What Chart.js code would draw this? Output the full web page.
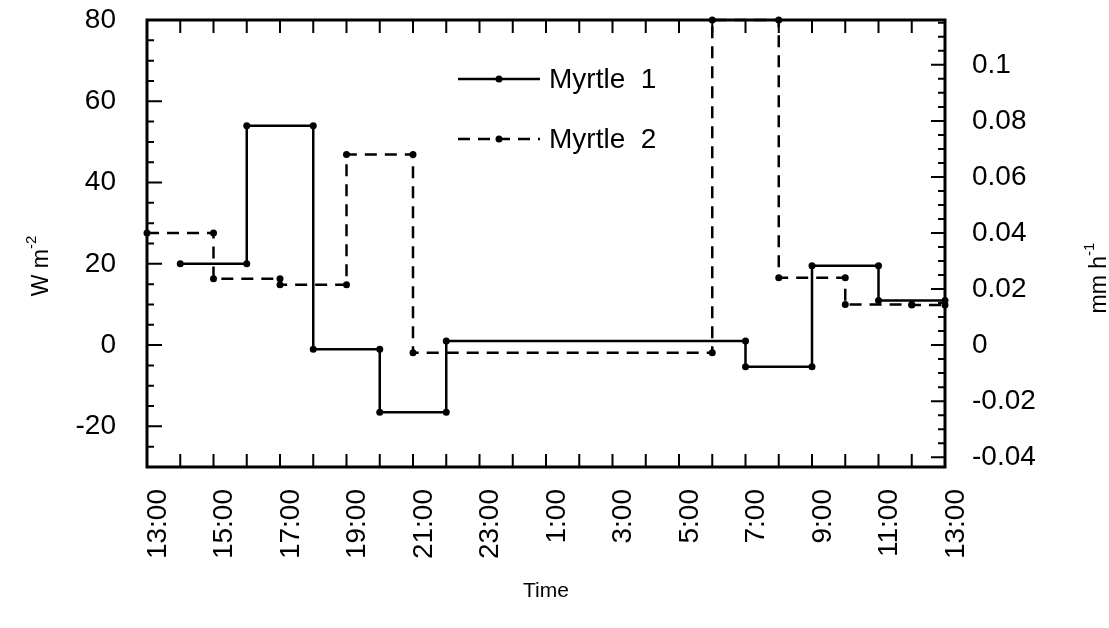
<!DOCTYPE html>
<html>
<head>
<meta charset="utf-8">
<script src="https://cdn.jsdelivr.net/npm/chart.js@4.4.1/dist/chart.umd.min.js"></script>
<style>
html,body{margin:0;padding:0;background:#fff;}
</style>
</head>
<body>
<canvas id="flux" width="1109" height="628"></canvas>
<script>
// tick labels along the day, every 2 h from 13:00 to 13:00
const timeLabels=['13:00','15:00','17:00','19:00','21:00','23:00','1:00','3:00','5:00','7:00','9:00','11:00','13:00'];

// Myrtle 1 (W m-2, left axis): each value holds from..to
const m1From=['14:00','16:00','18:00','20:00','22:00','7:00','9:00','11:00'];
const m1To  =['16:00','18:00','20:00','22:00','7:00','9:00','11:00','13:00'];
const m1Val =[20,54,-1,-16.5,1,-5.3,19.5,11];

// Myrtle 2 (mm h-1, right axis); 6:00-8:00 runs off the top
const m2From=['13:00','15:00','17:00','19:00','21:00','6:00','8:00','10:00','12:00'];
const m2To  =['15:00','17:00','19:00','21:00','6:00','8:00','10:00','12:00','13:00'];
const m2Val =[0.040,0.0237,0.0215,0.068,-0.0027,0.116,0.024,0.0145,0.0143];

const FONT='"Liberation Sans", Arial, sans-serif';

// hours since 13:00
function hrs(t,end){
  var h=(parseInt(t,10)-13+24)%24;
  if(end && h===0) h=24;
  return h;
}
// two points per interval so the line draws flat steps with a dot at each end
function steps(from,to,val){
  var pts=[];
  for(var i=0;i<val.length;i++){
    pts.push({x:hrs(from[i]),y:val[i]});
    pts.push({x:hrs(to[i],true),y:val[i]});
  }
  return pts;
}

// box round the plot and inward ticks on all four sides
const frame={
  id:'frame',
  beforeDatasetsDraw(chart){
    const c=chart.ctx, a=chart.chartArea;
    const sx=chart.scales.x, sy=chart.scales.y, sr=chart.scales.y1;
    c.save();
    c.strokeStyle='#000';
    c.lineWidth=2;
    c.beginPath();
    for(var h=0;h<=24;h++){
      var px=sx.getPixelForValue(h);
      c.moveTo(px,a.bottom);c.lineTo(px,a.bottom-13);
      c.moveTo(px,a.top);c.lineTo(px,a.top+13);
    }
    for(var v=-30;v<=80;v+=5){
      var py=sy.getPixelForValue(v);
      var len=(v%20===0)?15:7;
      c.moveTo(a.left,py);c.lineTo(a.left+len,py);
    }
    for(var k=-8;k<=23;k++){
      var val=k*0.005;
      if(val<sr.min||val>sr.max) continue;
      var pr=sr.getPixelForValue(val);
      var l2=(k%4===0)?14:7;
      c.moveTo(a.right,pr);c.lineTo(a.right-l2,pr);
    }
    c.stroke();
    c.lineWidth=3;
    c.strokeRect(a.left,a.top,a.right-a.left,a.bottom-a.top);
    c.restore();
  }
};

// legend inside the plot, line sample with its marker in the middle
const legendBox={
  id:'legendBox',
  afterDatasetsDraw(chart){
    const c=chart.ctx;
    chart.data.datasets.forEach(function(ds,i){
      var y=79+i*60;
      c.save();
      c.strokeStyle=ds.borderColor;
      c.lineWidth=ds.borderWidth;
      c.setLineDash(ds.borderDash||[]);
      c.beginPath();c.moveTo(458,y);c.lineTo(540,y);c.stroke();
      c.setLineDash([]);
      c.fillStyle=ds.pointBackgroundColor;
      c.beginPath();c.arc(499,y,ds.pointRadius,0,Math.PI*2);c.fill();
      c.font='28px '+FONT;
      c.textBaseline='middle';
      c.fillStyle='#000';
      c.fillText(ds.label,549,y+1);
      c.restore();
    });
  }
};

// rotated y titles with superscript exponents
function sideTitle(c,x,y,main,sup){
  c.save();
  c.translate(x,y);
  c.rotate(-Math.PI/2);
  c.fillStyle='#000';
  c.textBaseline='alphabetic';
  c.font='23px '+FONT;
  var w1=c.measureText(main).width;
  c.font='15px '+FONT;
  var w2=c.measureText(sup).width;
  var x0=-(w1+w2)/2;
  c.font='23px '+FONT;
  c.fillText(main,x0,8);
  c.font='15px '+FONT;
  c.fillText(sup,x0+w1,-4);
  c.restore();
}
const axisTitles={
  id:'axisTitles',
  afterDraw(chart){
    sideTitle(chart.ctx,40,266,'W m','-2');
    sideTitle(chart.ctx,1098,278,'mm h','-1');
  }
};

new Chart(document.getElementById('flux'),{
  type:'line',
  data:{
    datasets:[{
      label:'Myrtle  1',
      data:steps(m1From,m1To,m1Val),
      yAxisID:'y',
      borderColor:'#000',
      borderWidth:2.5,
      pointRadius:3.5,
      pointBackgroundColor:'#000',
      pointBorderWidth:0,
      clip:false
    },{
      label:'Myrtle  2',
      data:steps(m2From,m2To,m2Val),
      yAxisID:'y1',
      borderColor:'#000',
      borderWidth:2.5,
      borderDash:[12,8],
      pointRadius:3.5,
      pointBackgroundColor:'#000',
      pointBorderWidth:0,
      clip:false
    }]
  },
  options:{
    responsive:false,
    animation:false,
    devicePixelRatio:1,
    layout:{padding:{top:20,left:0,right:0,bottom:0}},
    plugins:{legend:{display:false},tooltip:{enabled:false}},
    scales:{
      x:{
        type:'linear',min:0,max:24,
        grid:{display:false},border:{display:false},
        ticks:{
          stepSize:2,minRotation:90,maxRotation:90,padding:14,labelOffset:11,color:'#000',
          font:{family:FONT,size:28},
          callback:function(v){return timeLabels[Math.round(v/2)];}
        },
        title:{display:true,text:'Time',color:'#000',
          font:{family:FONT,size:21},padding:{top:0,bottom:24}},
        afterFit:function(s){s.height=161;s.paddingLeft=0;s.paddingRight=0;}
      },
      y:{
        position:'left',min:-30,max:80,
        grid:{display:false},border:{display:false},
        ticks:{stepSize:20,includeBounds:false,padding:23,color:'#000',font:{family:FONT,size:28}},
        afterFit:function(s){s.width=147;s.paddingTop=0;s.paddingBottom=0;}
      },
      y1:{
        position:'right',min:-0.0435,max:0.116,
        grid:{display:false},border:{display:false},
        ticks:{stepSize:0.02,includeBounds:false,padding:19,color:'#000',font:{family:FONT,size:28},
          callback:function(v){return String(Math.round(v*1000)/1000);}},
        afterFit:function(s){s.width=164;s.paddingTop=0;s.paddingBottom=0;}
      }
    }
  },
  plugins:[frame,legendBox,axisTitles]
});
</script>
</body>
</html>
